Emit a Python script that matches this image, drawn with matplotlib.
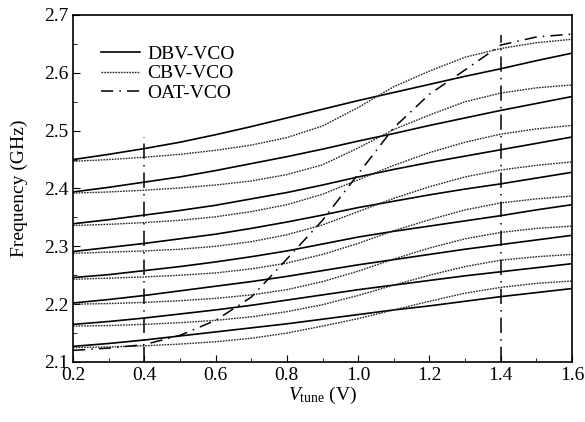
import matplotlib
matplotlib.use('Agg')
import matplotlib.pyplot as plt
from matplotlib.ticker import MultipleLocator, FormatStrFormatter

# tuning voltage samples (V)
v_tune = [0.2, 0.3, 0.4, 0.5, 0.6, 0.7, 0.8, 0.9, 1.0, 1.1, 1.2, 1.3, 1.4, 1.5, 1.6]

# DBV-VCO (solid), one curve per band, GHz
dbv = [
    [2.450, 2.459, 2.469, 2.480, 2.493, 2.507, 2.522, 2.537, 2.552, 2.566, 2.580, 2.594, 2.607, 2.621, 2.634],
    [2.394, 2.402, 2.411, 2.420, 2.431, 2.443, 2.455, 2.468, 2.482, 2.495, 2.509, 2.522, 2.535, 2.547, 2.559],
    [2.339, 2.346, 2.354, 2.362, 2.371, 2.382, 2.393, 2.406, 2.420, 2.433, 2.445, 2.456, 2.467, 2.478, 2.489],
    [2.291, 2.298, 2.305, 2.313, 2.321, 2.331, 2.342, 2.354, 2.367, 2.378, 2.389, 2.399, 2.408, 2.418, 2.428],
    [2.246, 2.251, 2.258, 2.265, 2.273, 2.282, 2.292, 2.304, 2.316, 2.326, 2.335, 2.344, 2.353, 2.363, 2.372],
    [2.202, 2.208, 2.215, 2.223, 2.231, 2.239, 2.248, 2.258, 2.268, 2.277, 2.286, 2.295, 2.303, 2.311, 2.319],
    [2.165, 2.170, 2.176, 2.183, 2.190, 2.198, 2.207, 2.216, 2.225, 2.233, 2.241, 2.249, 2.256, 2.263, 2.270],
    [2.127, 2.132, 2.138, 2.145, 2.152, 2.159, 2.166, 2.174, 2.182, 2.190, 2.197, 2.205, 2.213, 2.220, 2.227],
]

# CBV-VCO (dotted)
cbv = [
    [2.447, 2.450, 2.454, 2.459, 2.466, 2.475, 2.488, 2.508, 2.540, 2.576, 2.603, 2.627, 2.642, 2.652, 2.658],
    [2.392, 2.394, 2.397, 2.401, 2.406, 2.413, 2.424, 2.441, 2.470, 2.502, 2.527, 2.550, 2.565, 2.574, 2.579],
    [2.336, 2.338, 2.341, 2.345, 2.351, 2.360, 2.372, 2.390, 2.415, 2.440, 2.462, 2.480, 2.494, 2.503, 2.509],
    [2.288, 2.290, 2.292, 2.295, 2.300, 2.308, 2.320, 2.337, 2.360, 2.383, 2.403, 2.420, 2.432, 2.440, 2.446],
    [2.243, 2.245, 2.247, 2.250, 2.254, 2.261, 2.271, 2.286, 2.305, 2.327, 2.346, 2.363, 2.375, 2.382, 2.387],
    [2.200, 2.201, 2.203, 2.206, 2.210, 2.216, 2.225, 2.239, 2.257, 2.278, 2.297, 2.313, 2.324, 2.331, 2.335],
    [2.162, 2.163, 2.165, 2.168, 2.172, 2.178, 2.187, 2.199, 2.215, 2.233, 2.250, 2.265, 2.276, 2.282, 2.286],
    [2.125, 2.126, 2.128, 2.131, 2.135, 2.141, 2.150, 2.162, 2.175, 2.190, 2.205, 2.219, 2.229, 2.236, 2.240],
]

# OAT-VCO (dash-dot)
oat = [2.120, 2.124, 2.130, 2.146, 2.172, 2.212, 2.278, 2.345, 2.425, 2.505, 2.563, 2.605, 2.648, 2.662, 2.667]

# vertical range markers
marker_v = [0.4, 1.4]
marker_top = [2.489, 2.665]

plt.rcParams['font.family'] = 'serif'
plt.rcParams['font.serif'] = ['Liberation Serif']
plt.rcParams['mathtext.fontset'] = 'custom'
plt.rcParams['mathtext.rm'] = 'Liberation Serif'
plt.rcParams['mathtext.it'] = 'Liberation Serif:italic'

fig = plt.figure(figsize=(5.85, 4.22), dpi=100)
ax = fig.add_axes([0.1248, 0.1422, 0.853, 0.8223])

for i, y in enumerate(dbv):
    ax.plot(v_tune, y, color='black', lw=1.2, label='DBV-VCO' if i == 0 else None)
for i, y in enumerate(cbv):
    ax.plot(v_tune, y, color='0.15', lw=1.0, ls=(0, (1.2, 0.8)), label='CBV-VCO' if i == 0 else None)
ax.plot(v_tune, oat, color='black', lw=1.1, ls=(0, (8, 4, 1, 4)), label='OAT-VCO')

for xv, top in zip(marker_v, marker_top):
    ax.plot([xv, xv], [2.1, top], color='black', lw=1.1, ls=(0, (10, 4, 1, 4)))

ax.set_xlim(0.2, 1.6)
ax.set_ylim(2.1, 2.7)
ax.xaxis.set_major_locator(MultipleLocator(0.2))
ax.xaxis.set_minor_locator(MultipleLocator(0.1))
ax.yaxis.set_major_locator(MultipleLocator(0.1))
ax.yaxis.set_minor_locator(MultipleLocator(0.05))
ax.xaxis.set_major_formatter(FormatStrFormatter('%.1f'))
ax.yaxis.set_major_formatter(FormatStrFormatter('%.1f'))
ax.tick_params(which='both', direction='in', top=False, right=False, labelsize=14)
ax.tick_params(which='major', length=5)
ax.tick_params(which='minor', length=3)
for s in ax.spines.values():
    s.set_linewidth(1.2)

ax.set_xlabel(r'$V_{\rm tune}$ (V)', fontsize=14, labelpad=1)
ax.set_ylabel('Frequency (GHz)', fontsize=14, labelpad=11)

ax.legend(loc='upper left', frameon=False, fontsize=14, handlelength=2.0,
          borderaxespad=0.0, labelspacing=0.1, handletextpad=0.4,
          bbox_to_anchor=(0.04, 0.935))

fig.savefig('out.png', dpi=100)
